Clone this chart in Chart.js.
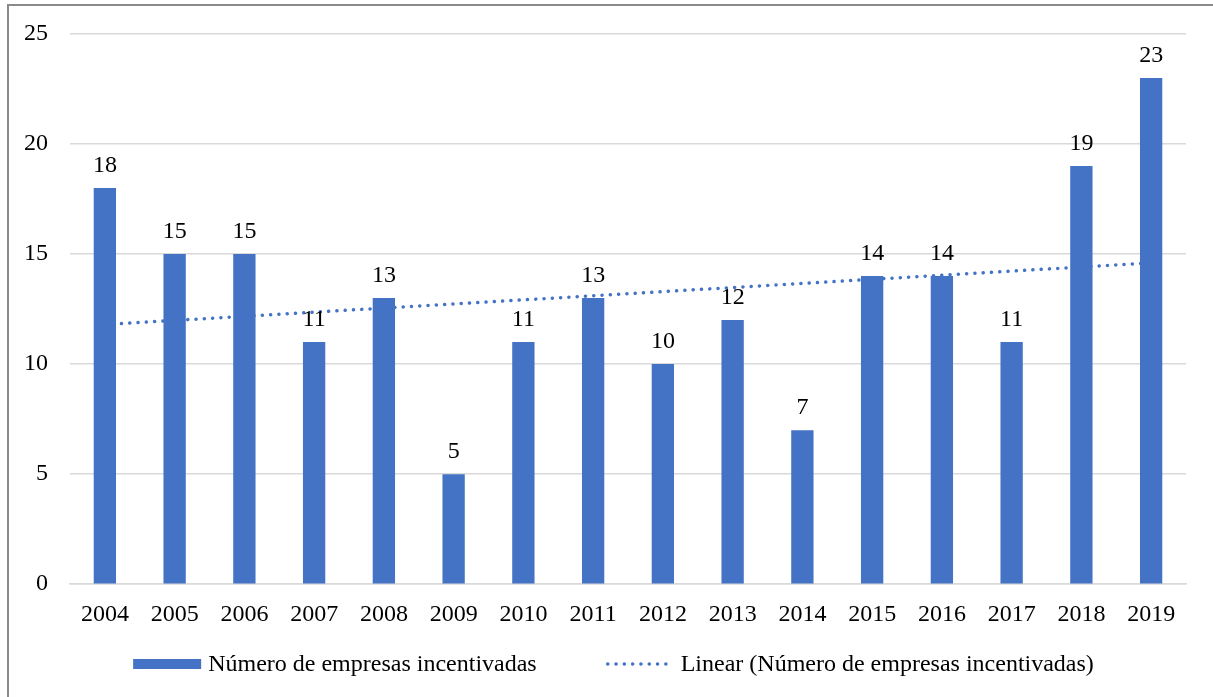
<!DOCTYPE html>
<html>
<head>
<meta charset="utf-8">
<script src="https://cdn.jsdelivr.net/npm/chart.js@4/dist/chart.umd.min.js"></script>
<style>
  html, body { margin: 0; padding: 0; background: #fff; overflow: hidden; }
  #frame { position: absolute; left: 7px; top: 4px; width: 1400px; height: 900px; border: 2px solid #8a8a8a; box-sizing: border-box; }
  #wrap { position: absolute; left: 0; top: 0; width: 1213px; height: 697px; }
</style>
</head>
<body>
<div id="frame"></div>
<div id="wrap"><canvas id="chart"></canvas></div>
<script>
// Data
const years = ['2004', '2005', '2006', '2007', '2008', '2009', '2010', '2011',
               '2012', '2013', '2014', '2015', '2016', '2017', '2018', '2019'];
const empresas = [18, 15, 15, 11, 13, 5, 11, 13, 10, 12, 7, 14, 14, 11, 19, 23];
// trend line ends (only first and last are read, line joins them)
const trendEnds = [11.8, null, null, null, null, null, null, null,
                   null, null, null, null, null, null, null, 14.6];

const FONT = "'Liberation Serif', 'Times New Roman', serif";
const BLUE = '#4472C4';
const DOTS = [0.1, 8.2];

// draw the value over each bar
const barLabels = {
    id: 'barLabels',
    afterDatasetsDraw(chart) {
        const ctx = chart.ctx;
        const meta = chart.getDatasetMeta(0);
        ctx.save();
        ctx.font = '24px ' + FONT;
        ctx.fillStyle = '#000';
        ctx.textAlign = 'center';
        ctx.textBaseline = 'alphabetic';
        meta.data.forEach((bar, i) => {
            ctx.fillText(String(empresas[i]), bar.x, bar.y - 16);
        });
        ctx.restore();
    }
};

// legend under the axis, drawn by hand so the gaps match
const bottomLegend = {
    id: 'bottomLegend',
    afterDraw(chart) {
        const ctx = chart.ctx;
        const sets = chart.data.datasets;
        const keyW = 68, gap = 7, between = 69;
        ctx.save();
        ctx.font = '24px ' + FONT;
        const w0 = ctx.measureText(sets[0].label).width;
        const w1 = ctx.measureText(sets[1].label).width;
        const total = keyW + gap + w0 + between + keyW + gap + w1;
        let x = chart.width / 2 + 7 - total / 2;
        const y = 664;

        ctx.fillStyle = BLUE;
        ctx.fillRect(x, y - 5, keyW, 10);
        x += keyW + gap;
        ctx.fillStyle = '#000';
        ctx.textBaseline = 'middle';
        ctx.fillText(sets[0].label, x, y + 1);
        x += w0 + between;

        ctx.strokeStyle = BLUE;
        ctx.lineWidth = 3.5;
        ctx.lineCap = 'round';
        ctx.setLineDash(DOTS);
        ctx.beginPath();
        ctx.moveTo(x + 2, y);
        ctx.lineTo(x + keyW, y);
        ctx.stroke();
        ctx.setLineDash([]);
        x += keyW + gap;
        ctx.fillText(sets[1].label, x, y + 1);
        ctx.restore();
    }
};

new Chart(document.getElementById('chart'), {
    type: 'bar',
    data: {
        labels: years,
        datasets: [{
            label: 'Número de empresas incentivadas',
            data: empresas,
            backgroundColor: BLUE,
            borderWidth: 0,
            categoryPercentage: 1,
            barPercentage: 0.32
        }, {
            type: 'line',
            label: 'Linear (Número de empresas incentivadas)',
            data: trendEnds,
            spanGaps: true,
            borderColor: BLUE,
            borderWidth: 3.5,
            borderDash: DOTS,
            borderCapStyle: 'round',
            pointRadius: 0,
            fill: false
        }]
    },
    options: {
        responsive: true,
        maintainAspectRatio: false,
        animation: false,
        layout: { padding: { left: 2, right: 27, top: 33, bottom: 52 } },
        plugins: {
            tooltip: { enabled: false },
            legend: { display: false }
        },
        scales: {
            x: {
                grid: { display: false, drawTicks: false },
                border: { color: '#d9d9d9', width: 1.5 },
                ticks: { color: '#000', font: { family: FONT, size: 24 }, padding: 16, maxRotation: 0 }
            },
            y: {
                min: 0,
                max: 25,
                grid: { color: '#d9d9d9', lineWidth: 1.5, drawTicks: false },
                border: { display: false },
                ticks: { stepSize: 5, color: '#000', font: { family: FONT, size: 24, lineHeight: 1 }, padding: 22 }
            }
        }
    },
    plugins: [barLabels, bottomLegend]
});
</script>
</body>
</html>
